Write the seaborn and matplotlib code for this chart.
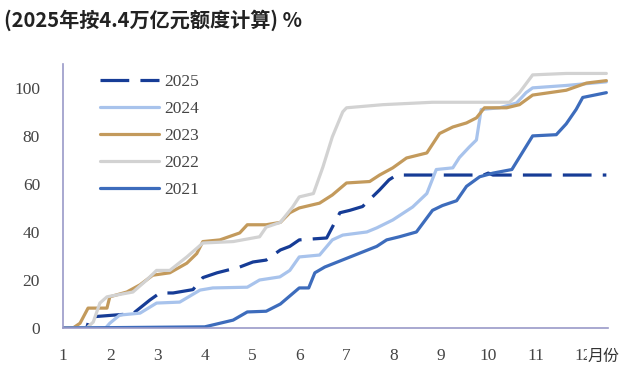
import pandas as pd
import numpy as np
import matplotlib
matplotlib.use("Agg")
import matplotlib.pyplot as plt
import seaborn as sns

# cumulative issuance progress (%), x = month position
m2025 = [1.0, 1.5, 1.57, 2.48, 2.84, 3.05, 3.33, 3.75, 3.96, 4.26, 4.74, 5.02, 5.3, 5.6, 5.8, 6.0, 6.58,
         6.7, 6.86, 7.07, 7.34, 7.7, 7.9, 8.06, 9.9, 10.0, 10.1, 12.5]
v2025 = [0, 0, 4.6, 6, 11.7, 14.6, 14.6, 16, 21, 23, 25.4, 27.5, 28.3, 32.5, 34, 36.7, 37.5,
         42, 48, 49, 50.6, 57.5, 61.7, 63.7, 63.7, 64.5, 63.7, 63.7]

m2024 = [1.0, 1.9, 1.99, 2.2, 2.63, 2.98, 3.47, 3.9, 4.17, 4.9, 5.16, 5.59, 5.8, 6.0, 6.43, 6.7, 6.92,
         7.43, 7.64, 7.98, 8.4, 8.7, 8.9, 9.25, 9.39, 9.6, 9.75, 9.85, 10.24, 10.6, 10.8, 10.94, 11.65, 12.5]
v2024 = [0, 0, 2, 5.4, 6.2, 10.4, 10.8, 15.8, 16.7, 17, 20, 21.3, 24, 29.6, 30.4, 36.7, 38.7,
         40, 41.7, 45, 50.4, 56, 66, 66.7, 71, 75.4, 78.3, 91, 91.7, 93.7, 98, 100, 101, 102.5]

m2023 = [1.0, 1.21, 1.36, 1.53, 1.93, 1.99, 2.35, 2.63, 2.9, 3.26, 3.62, 3.83, 3.96, 4.32, 4.74, 4.9,
         5.3, 5.6, 5.8, 6.0, 6.43, 6.7, 7.0, 7.49, 7.7, 7.98, 8.27, 8.7, 8.97, 9.25, 9.54, 9.75, 9.92,
         10.39, 10.66, 10.94, 11.65, 12.08, 12.5]
v2023 = [0, 0, 2, 8.3, 8.3, 13, 15, 18, 22, 23, 27, 31, 36, 36.7, 39.6, 43,
         43, 44, 48, 50, 52, 55.4, 60.4, 61, 63.7, 66.7, 70.8, 72.9, 81, 83.7, 85.4, 87.5, 91.7,
         91.7, 93, 97, 99, 102, 103]

m2022 = [1.0, 1.5, 1.64, 1.78, 1.93, 2.48, 2.77, 2.98, 3.26, 3.62, 3.96, 4.6, 5.16, 5.3, 5.6, 5.86,
         6.0, 6.3, 6.5, 6.7, 6.92, 7.0, 7.77, 8.82, 10.45, 10.66, 10.94, 11.65, 12.5]
v2022 = [0, 0, 2.5, 10.4, 13, 15, 20, 24, 24, 29.6, 35.4, 36, 38, 42, 44, 50.4,
         54.6, 56, 67, 79.6, 90, 91.7, 93, 94, 94, 98, 105.4, 106, 106]

m2021 = [1.0, 4.0, 4.6, 4.9, 5.3, 5.6, 6.0, 6.2, 6.33, 6.54, 7.0, 7.64, 7.85, 8.12, 8.48, 8.82, 9.03,
         9.33, 9.54, 9.82, 10.1, 10.5, 10.94, 11.44, 11.65, 11.86, 12.0, 12.5]
v2021 = [0, 0.5, 3.3, 6.7, 7, 10, 16.7, 16.7, 23, 25.4, 29, 34, 36.7, 38, 40, 49, 51,
         53, 59, 63, 64.5, 66, 80, 80.5, 85, 91, 96, 98]

years = ["2025", "2024", "2023", "2022", "2021"]
series = {"2025": (m2025, v2025), "2024": (m2024, v2024), "2023": (m2023, v2023),
          "2022": (m2022, v2022), "2021": (m2021, v2021)}
colors = {"2025": "#163C96", "2024": "#A8C3EC", "2023": "#C39A5C", "2022": "#D2D2D2", "2021": "#3D6CBC"}

df = pd.concat([pd.DataFrame({"month": m, "value": v, "year": y}) for y, (m, v) in series.items()],
               ignore_index=True)

sns.set_style("white")
plt.rcParams["font.family"] = ["Liberation Serif", "DejaVu Serif"]

fig = plt.figure(figsize=(6.24, 3.69), dpi=100)
ax = fig.add_axes([0.101, 0.111, 0.873, 0.716])

dashes = {y: "" for y in years}
dashes["2025"] = (9, 3.5)
sns.lineplot(data=df, x="month", y="value", hue="year", style="year", hue_order=years,
             style_order=years, palette=colors, dashes=dashes, estimator=None, sort=False,
             linewidth=2.3, ax=ax)
# 2025 drawn on top
for line in ax.lines:
    if line.get_label() == "2025":
        line.set_zorder(5)

ax.set_xlim(1, 12.53)
ax.set_ylim(0, 110)
ax.set_xticks(range(1, 13))
ax.set_yticks(range(0, 101, 20))
ax.set_xlabel("")
ax.set_ylabel("")
ax.tick_params(axis="both", labelsize=12.5, labelcolor="#444444", color="#9A9AC8",
               direction="out", length=3.5, width=1)
ax.tick_params(axis="x", pad=11)
ax.tick_params(axis="y", pad=13)
for s in ["top", "right"]:
    ax.spines[s].set_visible(False)
for s in ["left", "bottom"]:
    ax.spines[s].set_color("#9A9AC8")
    ax.spines[s].set_linewidth(1.2)

leg = ax.legend(loc="upper left", bbox_to_anchor=(0.04, 1.02), frameon=False, fontsize=12.5,
                handlelength=3.4, labelspacing=0.62, handletextpad=0.3)
for txt in leg.get_texts():
    txt.set_color("#444444")

cjk = ["Noto Sans CJK SC", "DejaVu Sans"]
fig.text(0.006, 0.945, "(2025年按4.4万亿元额度计算) %", fontsize=14.5, fontweight="bold",
         family=cjk, color="#222222", ha="left", va="center")
fig.text(0.993, 0.035, "月份", fontsize=11.5, family=cjk, color="#333333", ha="right", va="center",
         bbox=dict(facecolor="white", edgecolor="none", pad=0.6), zorder=10)

fig.savefig("out.png", dpi=100)
